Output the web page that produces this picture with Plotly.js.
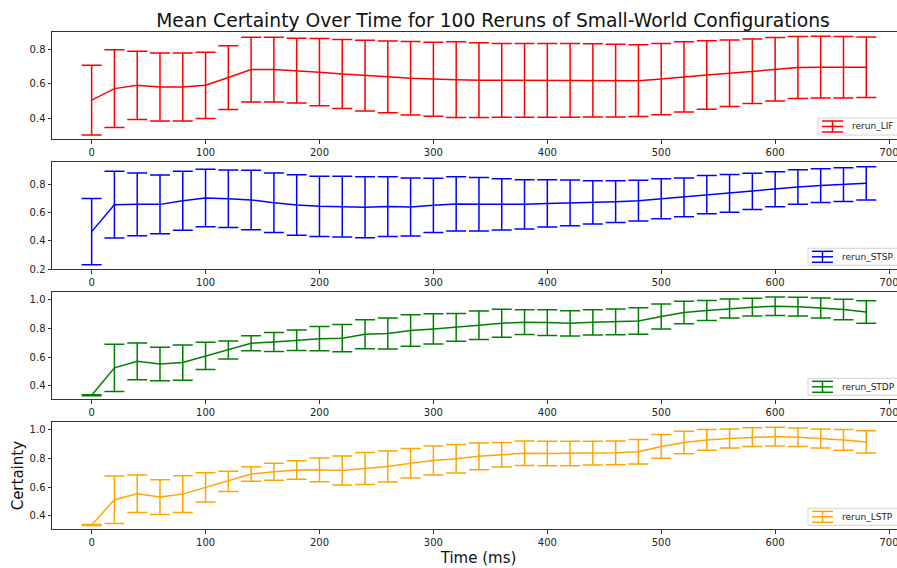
<!DOCTYPE html>
<html>
<head>
<meta charset="utf-8">
<script src="https://cdn.plot.ly/plotly-3.0.1.min.js"></script>
<style>
  html, body { margin: 0; padding: 0; overflow: hidden; background: #fff; }
  #chart { width: 905px; height: 568px; }
</style>
</head>
<body>
<div id="chart"></div>
<script>
// Time points (ms)
const timeMs = [0, 20, 40, 60, 80, 100, 120, 140, 160, 180, 200, 220, 240, 260, 280, 300, 320, 340,
                360, 380, 400, 420, 440, 460, 480, 500, 520, 540, 560, 580, 600, 620, 640, 660, 680];

// Mean certainty and standard deviation for each configuration
const lifMean = [0.505, 0.572, 0.591, 0.582, 0.582, 0.591, 0.636, 0.682, 0.682, 0.676, 0.667, 0.657, 0.647, 0.640, 0.632, 0.626, 0.624, 0.621,
                 0.620, 0.620, 0.620, 0.620, 0.620, 0.618, 0.618, 0.627, 0.640, 0.651, 0.661, 0.672, 0.684, 0.694, 0.696, 0.696, 0.696];
const lifStd  = [0.202, 0.225, 0.198, 0.197, 0.197, 0.192, 0.185, 0.187, 0.187, 0.188, 0.195, 0.200, 0.205, 0.208, 0.213, 0.214, 0.219, 0.216,
                 0.214, 0.214, 0.214, 0.214, 0.212, 0.211, 0.208, 0.207, 0.203, 0.199, 0.193, 0.187, 0.184, 0.180, 0.179, 0.178, 0.175];

const stspMean = [0.465, 0.656, 0.658, 0.658, 0.684, 0.703, 0.698, 0.689, 0.670, 0.654, 0.644, 0.642, 0.637, 0.642, 0.639, 0.651, 0.661, 0.659,
                  0.658, 0.658, 0.665, 0.668, 0.672, 0.677, 0.684, 0.698, 0.708, 0.727, 0.736, 0.750, 0.765, 0.781, 0.791, 0.798, 0.807];
const stspStd  = [0.235, 0.237, 0.222, 0.208, 0.209, 0.204, 0.204, 0.210, 0.211, 0.214, 0.213, 0.215, 0.216, 0.211, 0.205, 0.192, 0.192, 0.189,
                  0.182, 0.175, 0.168, 0.162, 0.153, 0.148, 0.144, 0.142, 0.137, 0.136, 0.133, 0.128, 0.124, 0.123, 0.119, 0.120, 0.118];

const stdpMean = [0.335, 0.526, 0.572, 0.553, 0.563, 0.609, 0.651, 0.698, 0.707, 0.719, 0.730, 0.733, 0.760, 0.765, 0.786, 0.798, 0.809, 0.823,
                  0.837, 0.845, 0.842, 0.837, 0.844, 0.847, 0.853, 0.884, 0.912, 0.926, 0.940, 0.949, 0.956, 0.953, 0.944, 0.933, 0.916];
const stdpStd  = [0.004, 0.164, 0.128, 0.117, 0.123, 0.095, 0.063, 0.052, 0.066, 0.072, 0.085, 0.095, 0.101, 0.108, 0.110, 0.105, 0.097, 0.099,
                  0.098, 0.086, 0.090, 0.088, 0.088, 0.090, 0.093, 0.087, 0.078, 0.069, 0.066, 0.062, 0.064, 0.066, 0.070, 0.071, 0.078];

const lstpMean = [0.335, 0.512, 0.553, 0.530, 0.551, 0.598, 0.640, 0.691, 0.707, 0.719, 0.721, 0.716, 0.730, 0.744, 0.767, 0.786, 0.798, 0.815,
                  0.826, 0.837, 0.835, 0.835, 0.837, 0.840, 0.847, 0.884, 0.912, 0.930, 0.940, 0.949, 0.953, 0.949, 0.940, 0.930, 0.916];
const lstpStd  = [0.004, 0.166, 0.131, 0.122, 0.128, 0.102, 0.070, 0.051, 0.059, 0.065, 0.083, 0.102, 0.112, 0.108, 0.103, 0.101, 0.100, 0.093,
                  0.085, 0.086, 0.086, 0.086, 0.083, 0.083, 0.086, 0.083, 0.079, 0.072, 0.066, 0.066, 0.066, 0.065, 0.067, 0.072, 0.078];

const seriesNames = ['rerun_LIF', 'rerun_STSP', 'rerun_STDP', 'rerun_LSTP'];
const seriesColors = ['#ff0000', '#0000ff', '#008000', '#ffa500'];
const xTicks = [0, 100, 200, 300, 400, 500, 600, 700];

// Figure geometry (pixels)
const W = 905, H = 568;
const M = { l: 52, r: 0, t: 32, b: 39 };
const plotW = W - M.l - M.r, plotH = H - M.t - M.b;
const panels = [[32, 139], [162.3, 269.3], [292.3, 399.3], [422.3, 529.3]];
const yRanges = [[0.28, 0.90], [0.198, 0.956], [0.307, 1.053], [0.307, 1.053]];
const legendLeft = [818, 808, 808, 808];
const toPaperX = px => (px - M.l) / plotW;
const toPaperY = py => 1 - (py - M.t) / plotH;

const FONT = 'DejaVu Sans, Arial, sans-serif';
const means = [lifMean, stspMean, stdpMean, lstpMean];
const stds = [lifStd, stspStd, stdpStd, lstpStd];

const data = [];
const shapes = [];
const annotations = [];
const layout = {
  width: W, height: H,
  margin: M,
  paper_bgcolor: '#fff', plot_bgcolor: '#fff',
  font: { family: FONT, size: 10, color: '#222' },
  showlegend: false,
  title: {
    text: 'Mean Certainty Over Time for 100 Reruns of Small-World Configurations',
    font: { family: FONT, size: 18.7, color: '#111' },
    x: 493 / W, xref: 'container', xanchor: 'center',
    y: 1 - 20 / H, yref: 'container', yanchor: 'middle'
  },
  shapes: shapes,
  annotations: annotations
};

function seg(x0, y0, x1, y1, color) {
  shapes.push({
    type: 'line', xref: 'paper', yref: 'paper', layer: 'above',
    x0: toPaperX(x0), x1: toPaperX(x1), y0: toPaperY(y0), y1: toPaperY(y1),
    line: { color: color, width: 1.5 }
  });
}

for (let i = 0; i < 4; i++) {
  const sfx = i === 0 ? '' : String(i + 1);
  data.push({
    type: 'scatter', mode: 'lines',
    x: timeMs, y: means[i],
    name: seriesNames[i],
    xaxis: 'x' + sfx, yaxis: 'y' + sfx,
    line: { color: seriesColors[i], width: 1.5 },
    error_y: { type: 'data', array: stds[i], visible: true, color: seriesColors[i], thickness: 1.5, width: 10 }
  });

  const [top, bot] = panels[i];
  const axisCommon = {
    showline: true, mirror: true, linecolor: '#333', linewidth: 1,
    ticks: 'outside', ticklen: 3.5, tickwidth: 1, tickcolor: '#333',
    showgrid: false, zeroline: false,
    tickfont: { family: FONT, size: 10, color: '#222' }
  };
  layout['xaxis' + sfx] = Object.assign({}, axisCommon, {
    domain: [0, 1], range: [-34.8, 714],
    tickmode: 'array', tickvals: xTicks,
    anchor: 'y' + sfx
  });
  layout['yaxis' + sfx] = Object.assign({}, axisCommon, {
    domain: [toPaperY(bot), toPaperY(top)], range: yRanges[i],
    dtick: 0.2, tick0: 0, tickformat: '.1f',
    anchor: 'x' + sfx
  });

  // Legend box in the lower-right corner of each panel, with an error-bar glyph
  const left = legendLeft[i];
  const boxTop = bot - 21, boxBot = bot - 4, cy = (boxTop + boxBot) / 2;
  shapes.push({
    type: 'rect', xref: 'paper', yref: 'paper', layer: 'above',
    x0: toPaperX(left), x1: toPaperX(902), y0: toPaperY(boxBot), y1: toPaperY(boxTop),
    fillcolor: 'rgba(255,255,255,0.8)', line: { color: '#d3d3d3', width: 1 }
  });
  const c = seriesColors[i];
  seg(left + 4, cy, left + 25, cy, c);
  seg(left + 4, cy - 5.5, left + 25, cy - 5.5, c);
  seg(left + 4, cy + 5.5, left + 25, cy + 5.5, c);
  seg(left + 14.5, cy - 5.5, left + 14.5, cy + 5.5, c);
  annotations.push({
    xref: 'paper', yref: 'paper', x: toPaperX(left + 32), y: toPaperY(cy),
    xanchor: 'left', yanchor: 'middle', showarrow: false,
    text: seriesNames[i], font: { family: FONT, size: 9, color: '#222' }
  });
}

layout.xaxis4.title = { text: 'Time (ms)', font: { family: FONT, size: 15, color: '#111' }, standoff: 5 };
layout.yaxis4.title = { text: 'Certainty', font: { family: FONT, size: 15, color: '#111' }, standoff: 2 };

Plotly.newPlot('chart', data, layout, { displayModeBar: false, staticPlot: true });
</script>
</body>
</html>
